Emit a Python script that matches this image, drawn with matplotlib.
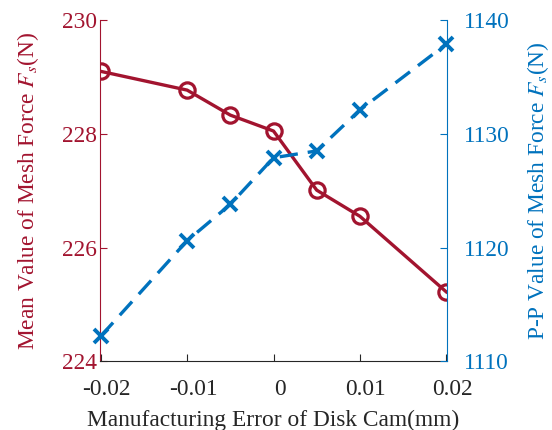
import matplotlib
matplotlib.use("Agg")
import matplotlib.pyplot as plt
from matplotlib.transforms import ScaledTranslation

plt.rcParams['font.family'] = ['Liberation Serif', 'DejaVu Serif']
plt.rcParams['mathtext.fontset'] = 'stix'
plt.rcParams['axes.unicode_minus'] = False

# Manufacturing error of the disk cam (mm)
error_mm = [-0.02, -0.01, -0.005, 0.0, 0.005, 0.01, 0.02]
# Mean value of the mesh force (N)
mean_force = [229.10, 228.77, 228.33, 228.05, 227.01, 226.55, 225.22]
# Peak-to-peak value of the mesh force (N)
pp_force = [1112.2, 1120.6, 1123.8, 1127.9, 1128.5, 1132.1, 1137.9]

x_ticks = [-0.02, -0.01, 0, 0.01, 0.02]
x_ticklabels = ['-0.02', '-0.01', '0', '0.01', '0.02']
left_ticks = [224, 226, 228, 230]
right_ticks = [1110, 1120, 1130, 1140]

red = '#A2142F'
blue = '#0072BD'
dark = '#262626'
fs = 16.8

fig = plt.figure(figsize=(5.52, 4.30), dpi=100)
ax = fig.add_axes([0.181, 0.160, 0.629, 0.793])
ax2 = ax.twinx()

ax.plot(error_mm, mean_force, color=red, lw=2.4, marker='o', ms=11,
        mfc='none', mew=2.3, zorder=3)
ax2.plot(error_mm, pp_force, color=blue, lw=2.4, ls=(0, (5.5, 3)), marker='x',
         ms=10, mew=2.8, clip_on=False)

ax.set_xlim(-0.0201, 0.0201)
ax.set_ylim(224, 230)
ax2.set_ylim(1110, 1140)
ax.set_xticks(x_ticks)
ax.set_xticklabels(x_ticklabels)
ax.set_yticks(left_ticks)
ax2.set_yticks(right_ticks)

for a in (ax, ax2):
    a.spines['top'].set_visible(False)
ax.spines['right'].set_visible(False)
ax2.spines['left'].set_visible(False)
ax2.spines['bottom'].set_visible(False)
ax.spines['left'].set_color(red)
ax2.spines['right'].set_color(blue)
ax.spines['bottom'].set_color(dark)

ax.tick_params(axis='y', direction='in', colors=red, labelsize=fs, length=5, pad=2)
ax.tick_params(axis='x', direction='in', colors=dark, labelsize=fs, length=5, pad=13)
ax2.tick_params(axis='y', direction='in', colors=blue, labelsize=fs, length=5, pad=12)

# nudge the x tick labels slightly to the right
shift = ScaledTranslation(6 / 100, 0, fig.dpi_scale_trans)
for lbl in ax.get_xticklabels():
    lbl.set_transform(lbl.get_transform() + shift)

ax.set_xlabel('Manufacturing Error of Disk Cam(mm)', fontsize=fs, color=dark, labelpad=7)
ax.set_ylabel('Mean Value of Mesh Force $F_s$(N)', fontsize=fs, color=red, labelpad=15)
ax2.set_ylabel('P-P Value of Mesh Force $F_s$(N)', fontsize=fs, color=blue, labelpad=11)

fig.savefig('out.png', dpi=100)
